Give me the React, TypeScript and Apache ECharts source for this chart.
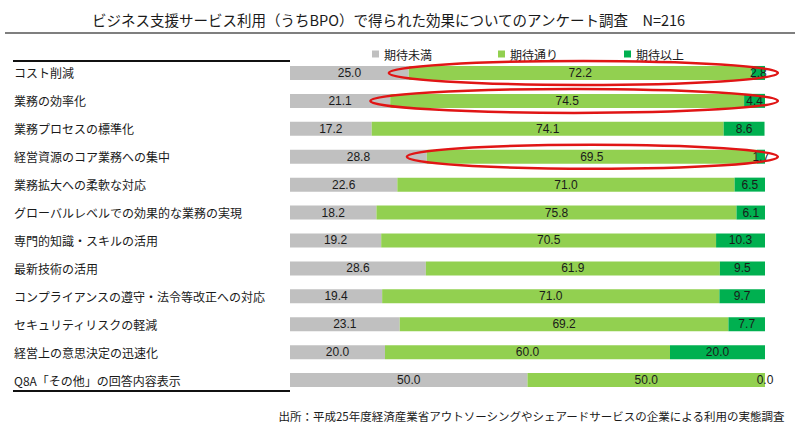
import React, { useEffect, useRef } from "react";
import * as echarts from "echarts";

const categories = [
  "コスト削減",
  "業務の効率化",
  "業務プロセスの標準化",
  "経営資源のコア業務への集中",
  "業務拡大への柔軟な対応",
  "グローバルレベルでの効果的な業務の実現",
  "専門的知識・スキルの活用",
  "最新技術の活用",
  "コンプライアンスの遵守・法令等改正への対応",
  "セキュリティリスクの軽減",
  "経営上の意思決定の迅速化",
  "Q8A「その他」の回答内容表示",
];
const belowExpect = [25.0, 21.1, 17.2, 28.8, 22.6, 18.2, 19.2, 28.6, 19.4, 23.1, 20.0, 50.0];
const asExpect = [72.2, 74.5, 74.1, 69.5, 71.0, 75.8, 70.5, 61.9, 71.0, 69.2, 60.0, 50.0];
const aboveExpect = [2.8, 4.4, 8.6, 1.7, 6.5, 6.1, 10.3, 9.5, 9.7, 7.7, 20.0, 0.0];
const seriesNames = ["期待未満", "期待通り", "期待以上"];
const highlightedRows = [0, 1, 3];

const JP = "'Noto Sans CJK JP', 'Noto Sans', sans-serif";
const NUM = "'Liberation Sans Narrow', 'Liberation Sans', Arial, sans-serif";

export default function App() {
  const ref = useRef<HTMLDivElement>(null);
  useEffect(() => {
    if (!ref.current) return;
    const chart = echarts.init(ref.current, null, { renderer: "svg" });
    const colors = ["#c0c0c0", "#92d050", "#00b050"];
    const datasets = [belowExpect, asExpect, aboveExpect];
    const labelStyle = {
      show: true,
      position: "inside" as const,
      color: "#1a1a1a",
      fontSize: 12,
      fontFamily: NUM,
      formatter: (p: any) => Number(p.value).toFixed(1),
    };
    chart.setOption({
      animation: false,
      backgroundColor: "#ffffff",
      title: {
        text: "ビジネス支援サービス利用（うちBPO）で得られた効果についてのアンケート調査　N=216",
        left: 87,
        top: 7,
        textStyle: { fontFamily: JP, fontSize: 14.5, fontWeight: "normal", color: "#1a1a1a" },
      },
      legend: {
        data: seriesNames,
        left: 367,
        top: 43,
        itemWidth: 7,
        itemHeight: 7,
        itemGap: 66,
        icon: "rect",
        textStyle: { fontFamily: JP, fontSize: 12, color: "#1a1a1a" },
      },
      grid: { left: 290, right: 35, top: 59, bottom: 46 },
      xAxis: {
        type: "value",
        min: 0,
        max: 100,
        show: false,
      },
      yAxis: {
        type: "category",
        data: categories,
        inverse: true,
        axisLine: { show: false },
        axisTick: { show: false },
        axisLabel: {
          align: "left",
          margin: 276,
          fontFamily: JP,
          fontSize: 12,
          color: "#1a1a1a",
        },
      },
      series: seriesNames.map((name, i) => ({
        name,
        type: "bar",
        stack: "total",
        barWidth: 14,
        data: datasets[i],
        itemStyle: { color: colors[i] },
        label: labelStyle,
      })),
    });

    const ellipses = highlightedRows.map((row) => {
      const [x1, cy] = chart.convertToPixel({ gridIndex: 0 }, [belowExpect[row] - 4.2, row]) as number[];
      const [x2] = chart.convertToPixel({ gridIndex: 0 }, [102.7, row]) as number[];
      return {
        type: "ellipse",
        z: 100,
        shape: { cx: (x1 + x2) / 2, cy, rx: (x2 - x1) / 2, ry: 12 },
        style: { fill: "none", stroke: "#e01515", lineWidth: 2.5 },
      };
    });
    const [gx0, gyTop] = chart.convertToPixel({ gridIndex: 0 }, [0, 0]) as number[];
    const [, gyBot] = chart.convertToPixel({ gridIndex: 0 }, [0, categories.length - 1]) as number[];

    chart.setOption({
      graphic: [
        { type: "line", shape: { x1: 5, y1: 33, x2: 795, y2: 33 }, style: { stroke: "#555", lineWidth: 1.5 } },
        { type: "line", shape: { x1: 13, y1: gyTop - 12, x2: gx0, y2: gyTop - 12 }, style: { stroke: "#111", lineWidth: 2 } },
        { type: "line", shape: { x1: 13, y1: gyBot + 11, x2: gx0, y2: gyBot + 11 }, style: { stroke: "#111", lineWidth: 2 } },
        ...ellipses,
        {
          type: "text",
          right: 15,
          top: 410,
          style: {
            text: "出所：平成25年度経済産業省アウトソーシングやシェアードサービスの企業による利用の実態調査",
            fontFamily: JP,
            fontSize: 11.5,
            fill: "#1a1a1a",
          },
        },
      ],
    });
    return () => chart.dispose();
  }, []);
  return <div ref={ref} style={{ position: "fixed", left: 0, top: 0, width: 800, height: 440 }} />;
}
